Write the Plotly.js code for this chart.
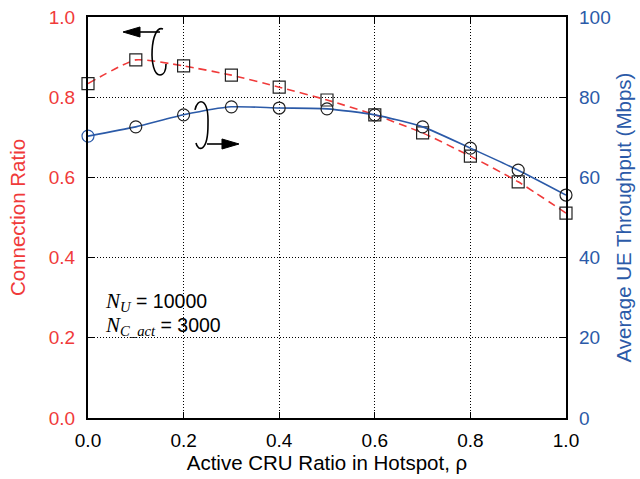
<!DOCTYPE html>
<html>
<head>
<meta charset="utf-8">
<script src="https://cdn.plot.ly/plotly-3.0.1.min.js"></script>
<style>html,body{margin:0;padding:0;background:#fff;}#chart{width:640px;height:479px;}</style>
</head>
<body>
<div id="chart"></div>
<script>
const rho = [0.0, 0.1, 0.2, 0.3, 0.4, 0.5, 0.6, 0.7, 0.8, 0.9, 1.0];
const connectionRatio = [0.834, 0.893, 0.878, 0.855, 0.825, 0.793, 0.756, 0.711, 0.653, 0.589, 0.511];
const throughput = [70.3, 72.6, 75.6, 77.6, 77.3, 77.1, 75.6, 72.6, 67.3, 61.8, 55.6];
const leftTicks = [0, 0.2, 0.4, 0.6, 0.8, 1.0];
const leftTickText = ['0.0', '0.2', '0.4', '0.6', '0.8', '1.0'];
const rightTicks = [0, 20, 40, 60, 80, 100];
const xTicks = [0, 0.2, 0.4, 0.6, 0.8, 1.0];
const xTickText = ['0.0', '0.2', '0.4', '0.6', '0.8', '1.0'];

const RED = '#f03a3a';
const BLUE = '#2b5aa8';
const FONT = 'Liberation Sans, Arial, Helvetica, sans-serif';
const SERIF = 'Liberation Serif, Times New Roman, serif';

// plot area geometry (pixels) used only for the decorative arrow/curl glyphs
const L = 88, R = 566, T = 17, B = 418;
function px(x) { return +((x - L) / (R - L)).toFixed(4); }
function py(y) { return +((B - y) / (B - T)).toFixed(4); }
function path(cmds) {
  return cmds.map(c => c[0] + ' ' + c.slice(1).map((v, i) => i % 2 === 0 ? px(v) : py(v)).reduce((a, v, i) => a + (i === 0 ? '' : (i % 2 ? ',' : ' ')) + v, '')).join(' ') ;
}
const glyph = {type: 'path', xref: 'paper', yref: 'paper', line: {color: '#000', width: 1.6}};
const head = {type: 'path', xref: 'paper', yref: 'paper', line: {color: '#000', width: 1}, fillcolor: '#000'};

const traces = [
  {
    x: rho, y: connectionRatio, yaxis: 'y', type: 'scatter', mode: 'lines+markers',
    line: {color: RED, width: 1.6, dash: '8px,5px', shape: 'spline', smoothing: 0.5},
    marker: {symbol: 'square-open', size: 12, color: '#222', line: {width: 1.2}},
    cliponaxis: false, showlegend: false
  },
  {
    x: rho, y: throughput, yaxis: 'y2', type: 'scatter', mode: 'lines+markers',
    line: {color: BLUE, width: 1.6, shape: 'spline', smoothing: 0.6},
    marker: {symbol: 'circle-open', size: 12, color: [BLUE, '#222', '#222', '#222', '#222', '#222', '#222', '#222', '#222', '#222', '#222'], line: {width: 1.2}},
    cliponaxis: false, showlegend: false
  }
];

const layout = {
  width: 640, height: 479,
  margin: {l: L, r: 640 - R, t: T, b: 479 - B, pad: 0},
  paper_bgcolor: '#fff', plot_bgcolor: '#fff',
  font: {family: FONT, size: 19, color: '#000'},
  xaxis: {
    range: [0, 1], tickvals: xTicks, ticktext: xTickText,
    ticks: 'inside', ticklen: 6, tickcolor: '#000', tickwidth: 1.2,
    showline: true, linecolor: '#000', linewidth: 2, mirror: 'ticks',
    showgrid: true, gridcolor: '#000', griddash: '1px,2px', gridwidth: 1,
    zeroline: false, tickfont: {size: 19, color: '#000'}, ticklabelstandoff: 4,
    title: {text: 'Active CRU Ratio in Hotspot, ρ', font: {size: 20.5, color: '#000'}, standoff: 6}
  },
  yaxis: {
    range: [0, 1], tickvals: leftTicks, ticktext: leftTickText,
    ticks: 'inside', ticklen: 6, tickcolor: '#000', tickwidth: 1.2,
    showline: true, linecolor: '#000', linewidth: 2, mirror: true,
    showgrid: true, gridcolor: '#000', griddash: '1px,2px', gridwidth: 1,
    zeroline: false, tickfont: {size: 19, color: RED}, ticklabelstandoff: 7,
    title: {text: 'Connection Ratio', font: {size: 20.5, color: RED}, standoff: 18}
  },
  yaxis2: {
    range: [0, 100], tickvals: rightTicks, overlaying: 'y', side: 'right',
    ticks: 'inside', ticklen: 6, tickcolor: '#000', tickwidth: 1.2,
    showline: false, showgrid: false, zeroline: false,
    tickfont: {size: 19, color: BLUE}, ticklabelstandoff: 12,
    title: {text: 'Average UE Throughput (Mbps)', font: {size: 20.5, color: BLUE}, standoff: 6}
  },
  shapes: [
    Object.assign({}, glyph, {path: path([['M', 163, 29], ['C', 150, 24, 148, 75, 160, 75], ['C', 164, 75, 166, 70, 166, 64]])}),
    Object.assign({}, glyph, {path: path([['M', 195, 110], ['C', 197, 98, 209, 96, 208, 125], ['C', 208, 152, 198, 152, 196, 143]])}),
    Object.assign({}, glyph, {path: path([['M', 160, 32], ['L', 139, 32]])}),
    Object.assign({}, head, {path: path([['M', 123, 32], ['L', 140, 27], ['L', 140, 37]]) + ' Z'}),
    Object.assign({}, glyph, {path: path([['M', 207, 144], ['L', 223, 144]])}),
    Object.assign({}, head, {path: path([['M', 239, 144], ['L', 222, 139], ['L', 222, 149]]) + ' Z'})
  ],
  annotations: [
    {xref: 'paper', yref: 'paper', x: px(103), y: py(302), xanchor: 'left', yanchor: 'middle', showarrow: false,
     text: '<span style="font-family:' + SERIF + ';font-size:21px"><i>N<sub>U</sub></i></span> = 10000',
     font: {size: 19.5, color: '#000'}},
    {xref: 'paper', yref: 'paper', x: px(103), y: py(326), xanchor: 'left', yanchor: 'middle', showarrow: false,
     text: '<span style="font-family:' + SERIF + ';font-size:21px"><i>N<sub>C_act</sub></i></span> = 3000',
     font: {size: 19.5, color: '#000'}}
  ]
};

Plotly.newPlot('chart', traces, layout, {staticPlot: true, displayModeBar: false});
</script>
</body>
</html>
